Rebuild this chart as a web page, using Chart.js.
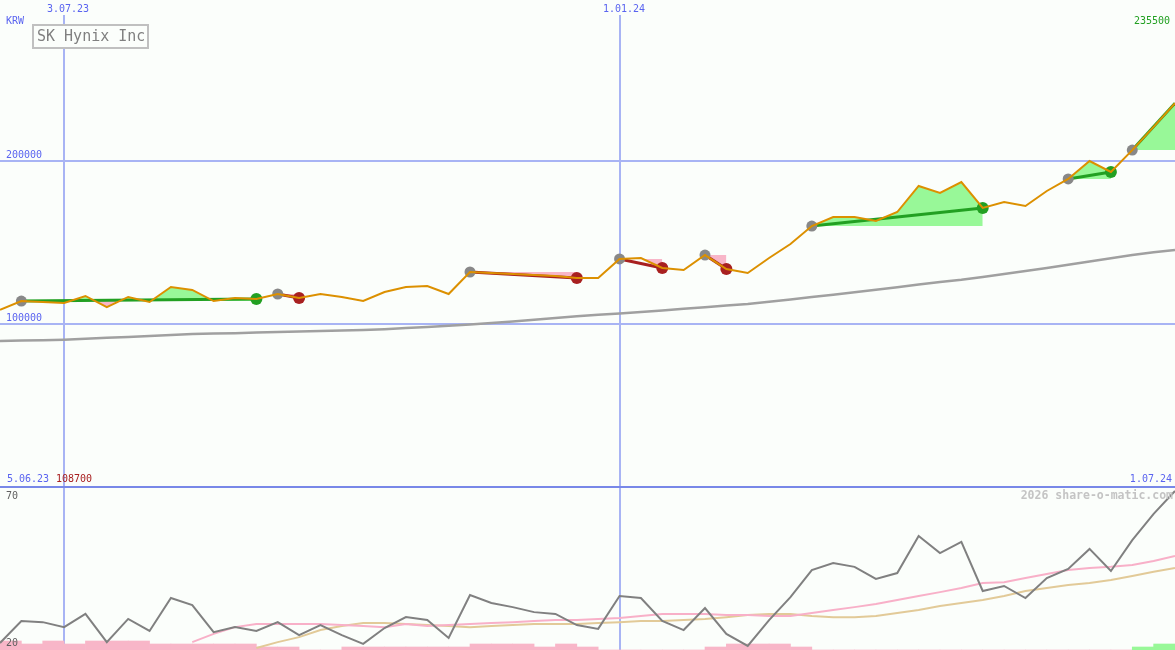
<!DOCTYPE html>
<html>
<head>
<meta charset="utf-8">
<script src="https://cdn.jsdelivr.net/npm/chart.js@4.4.1/dist/chart.umd.min.js"></script>
<style>
  html, body { margin: 0; padding: 0; background: #fbfefb; }
  #wrap { width: 1175px; height: 650px; }
</style>
</head>
<body>
<div id="wrap"><canvas id="chart" width="1175" height="650"></canvas></div>
<script>

// ======================================================
// Data (weekly points, index 0 .. 55)
// ======================================================

const dateTicks = [3, 29];
const dateLabels = ["3.07.23", "1.01.24"];
const priceTicks = [200000, 100000];
const oscTicks = [70, 20];

const price = [
    108700, 114100, 113500, 112900, 117200, 110400, 116600, 113500, 122700, 120900,
    114100, 116000, 115300, 118400, 116000, 118400, 116600, 114100, 119600, 122700,
    123300, 118400, 131900, 131300, 130700, 130100, 129400, 128200, 128200, 139900,
    140500, 134400, 133100, 142300, 133700, 131300, 140500, 149100, 160100, 165600,
    165600, 163200, 168700, 184700, 180400, 187100, 171200, 174800, 172400, 181600,
    189000, 200000, 193300, 206700, 220900, 235500
];

const trend = [
    89600, 89850, 90100, 90400, 90900, 91500, 92000, 92700, 93300, 93800,
    94100, 94400, 94800, 95100, 95400, 95700, 96000, 96300, 96800, 97500,
    98200, 98900, 99700, 100600, 101600, 102600, 103700, 104800, 105600, 106400,
    107300, 108300, 109300, 110300, 111300, 112300, 113600, 115000, 116500, 118000,
    119500, 121000, 122600, 124200, 125800, 127200, 128900, 130700, 132500, 134400,
    136400, 138400, 140400, 142300, 144000, 145400
];

const osc = [
    21.7, 29.2, 28.8, 27.1, 31.6, 22.0, 29.9, 25.8, 37.0, 34.6,
    25.4, 27.1, 25.8, 28.8, 24.4, 27.8, 24.4, 21.4, 26.8, 30.5,
    29.5, 23.4, 38.0, 35.3, 33.9, 32.2, 31.6, 27.8, 26.5, 37.7,
    37.0, 29.2, 26.1, 33.6, 24.8, 20.7, 29.5, 37.3, 46.5, 48.9,
    47.6, 43.5, 45.5, 58.1, 52.3, 56.1, 39.4, 41.1, 37.0, 43.8,
    46.9, 53.7, 46.2, 56.7, 65.6, 73.4
];

const oscFast = [
    null, null, null, null, null, null, null, null, null, 22.0,
    24.8, 27.1, 28.2, 28.2, 28.2, 28.2, 27.8, 27.5, 27.1, 28.2,
    27.5, 27.8, 28.2, 28.5, 28.8, 29.2, 29.5, 29.5, 29.9, 30.2,
    30.9, 31.6, 31.6, 31.6, 31.2, 31.2, 30.9, 30.9, 31.9, 32.9,
    33.9, 35.0, 36.3, 37.7, 39.0, 40.4, 42.1, 42.4, 43.8, 45.2,
    46.5, 47.2, 47.6, 48.2, 49.6, 51.3
];

const oscSlow = [
    null, null, null, null, null, null, null, null, null, null,
    null, null, 20.0, 22.0, 23.7, 26.1, 27.5, 28.5, 28.5, 28.2,
    27.8, 27.5, 27.1, 27.5, 27.8, 28.2, 28.2, 28.2, 28.5, 28.8,
    29.2, 29.2, 29.5, 29.9, 30.5, 31.2, 31.6, 31.6, 30.9, 30.5,
    30.5, 30.9, 31.9, 32.9, 34.3, 35.3, 36.3, 37.7, 39.4, 40.4,
    41.4, 42.1, 43.1, 44.5, 45.9, 47.2
];

// one bar per week interval (between point i and i + 1)
const barLevels = [
    3, 2, 3, 2, 3, 3, 3, 2, 2, 2,
    2, 2, 1, 1, 0, 0, 1, 1, 1, 1,
    1, 1, 2, 2, 2, 1, 2, 1, 0, 0,
    0, 0, 0, 1, 2, 2, 2, 1, 0, 0,
    0, 0, 0, 0, 0, 0, 0, 0, 0, 0,
    0, 0, 0, 1, 2
];
const barGreen = [53, 54];

// trades: entry / exit point index (null = still open)
const entries = [1, 13, 22, 29, 33, 38, 50, 53];
const exits = [12, 14, 27, 31, 34, 46, 52, null];

// ======================================================
// Colours
// ======================================================

const BG = "#fbfefb";
const GRID = "#a8b4f4";
const GRID_DARK = "#7888e8";
const BLUE_TEXT = "#5a64f0";
const ORANGE = "#dc9000";
const GREEN = "#22a022";
const RED = "#a82020";
const LIGHT_GREEN = "#98f898";
const PINK = "#f8b6c8";
const FONT = '"DejaVu Sans Mono", monospace';

const lastIdx = price.length - 1;
const xy = (arr) => arr.map((v, i) => ({ x: i, y: v }));

// ======================================================
// Trade datasets
// ======================================================

const fillSets = entries.map((e, k) => {
    const end = exits[k] ?? lastIdx;
    const data = [];
    for (let i = e; i <= end; i++) data.push({ x: i, y: price[e] });
    return {
        data,
        yAxisID: "y",
        borderWidth: 0,
        borderColor: "rgba(0,0,0,0)",
        pointRadius: 0,
        fill: { target: 0, above: PINK, below: LIGHT_GREEN },
        order: 10
    };
});

const tradeLines = entries.map((e, k) => {
    const end = exits[k] ?? lastIdx;
    return {
        data: [{ x: e, y: price[e] }, { x: end, y: price[end] }],
        yAxisID: "y",
        borderColor: price[end] >= price[e] ? GREEN : RED,
        borderWidth: 3,
        pointRadius: 0,
        order: 5
    };
});

const closed = exits.filter(x => x !== null);

const entryMarks = {
    data: entries.map(e => ({ x: e, y: price[e] })),
    yAxisID: "y",
    showLine: false,
    pointRadius: 5.5,
    pointBackgroundColor: "#888888",
    pointBorderWidth: 0,
    order: 3
};

const exitMarks = {
    data: closed.map(x => ({ x, y: price[x] })),
    yAxisID: "y",
    showLine: false,
    pointRadius: 6,
    pointBackgroundColor: exits
        .map((x, k) => x === null ? null : (price[x] >= price[entries[k]] ? GREEN : RED))
        .filter(c => c !== null),
    pointBorderWidth: 0,
    order: 3
};

// ======================================================
// Grid + labels plugin
// ======================================================

const overlay = {
    id: "overlay",
    beforeDraw(chart) {
        const { ctx, width, height } = chart;
        ctx.save();
        ctx.fillStyle = BG;
        ctx.fillRect(0, 0, width, height);
        ctx.restore();
    },
    beforeDatasetsDraw(chart) {
        const { ctx, chartArea: a, scales } = chart;
        ctx.save();
        ctx.lineWidth = 2;
        ctx.strokeStyle = GRID;
        priceTicks.forEach(v => {
            const y = Math.round(scales.y.getPixelForValue(v));
            ctx.beginPath(); ctx.moveTo(a.left, y); ctx.lineTo(a.right, y); ctx.stroke();
        });
        dateTicks.forEach(v => {
            const x = Math.round(scales.x.getPixelForValue(v));
            ctx.beginPath(); ctx.moveTo(x, 15); ctx.lineTo(x, a.bottom); ctx.stroke();
        });
        ctx.strokeStyle = GRID_DARK;
        const y0 = Math.round(scales.y.getPixelForValue(0));
        ctx.beginPath(); ctx.moveTo(a.left, y0); ctx.lineTo(a.right, y0); ctx.stroke();
        ctx.restore();
    },
    afterDraw(chart) {
        const { ctx, chartArea: a, scales } = chart;
        ctx.save();
        ctx.font = "10px " + FONT;
        ctx.textBaseline = "middle";

        ctx.fillStyle = BLUE_TEXT;
        dateTicks.forEach((v, k) => {
            const x = Math.round(scales.x.getPixelForValue(v));
            ctx.textAlign = "left";
            ctx.fillText(dateLabels[k], x - 17, 9);
        });
        ctx.textAlign = "left";
        ctx.fillText("KRW", 6, 21);
        priceTicks.forEach(v => {
            const y = scales.y.getPixelForValue(v);
            ctx.fillText(String(v), 6, y - 6);
        });
        const ySep = scales.y.getPixelForValue(0);
        ctx.fillText("5.06.23", 7, ySep - 8);
        ctx.textAlign = "right";
        ctx.fillText("1.07.24", a.right - 3, ySep - 8);

        ctx.textAlign = "left";
        ctx.fillStyle = RED;
        ctx.fillText(String(price[0]), 56, ySep - 8);

        ctx.textAlign = "right";
        ctx.fillStyle = GREEN;
        ctx.fillText(String(price[lastIdx]), a.right - 5, 21);

        ctx.textAlign = "left";
        ctx.fillStyle = "#606060";
        ctx.fillText(String(oscTicks[0]), 6, 496);
        ctx.fillText(String(oscTicks[1]), 6, 643);

        ctx.textAlign = "right";
        ctx.fillStyle = "#c4c4c4";
        ctx.font = "bold 11.5px " + FONT;
        ctx.fillText("2026 share-o-matic.com", a.right - 2, 496);

        // title box
        ctx.fillStyle = BG;
        ctx.fillRect(33, 25, 115, 23);
        ctx.strokeStyle = "#c0c0c0";
        ctx.lineWidth = 2;
        ctx.strokeRect(33, 25, 115, 23);
        ctx.fillStyle = "#808080";
        ctx.textAlign = "left";
        ctx.font = "15px " + FONT;
        ctx.fillText("SK Hynix Inc", 37, 37);
        ctx.restore();
    }
};

// ======================================================
// Chart
// ======================================================

new Chart(document.querySelector("#chart"), {
    type: "line",
    data: {
        datasets: [
            {
                data: xy(price),
                yAxisID: "y",
                borderColor: ORANGE,
                borderWidth: 2,
                pointRadius: 0,
                order: 0
            },
            ...fillSets,
            ...tradeLines,
            entryMarks,
            exitMarks,
            {
                data: xy(trend),
                yAxisID: "y",
                borderColor: "#a0a0a0",
                borderWidth: 2.5,
                pointRadius: 0,
                order: 8
            },
            {
                data: xy(osc),
                yAxisID: "y2",
                borderColor: "#808080",
                borderWidth: 2,
                pointRadius: 0,
                order: 1
            },
            {
                data: xy(oscFast),
                yAxisID: "y2",
                borderColor: "#f8b0c8",
                borderWidth: 2,
                pointRadius: 0,
                order: 2
            },
            {
                data: xy(oscSlow),
                yAxisID: "y2",
                borderColor: "#e2ca98",
                borderWidth: 2,
                pointRadius: 0,
                order: 2
            },
            {
                type: "bar",
                data: barLevels.map((v, i) => ({ x: i + 0.5, y: v })),
                yAxisID: "yb",
                backgroundColor: barLevels.map((v, i) => barGreen.includes(i) ? LIGHT_GREEN : PINK),
                borderWidth: 0,
                barPercentage: 1,
                categoryPercentage: 1,
                order: 20
            }
        ]
    },
    options: {
        responsive: false,
        animation: false,
        events: [],
        layout: { padding: 0, autoPadding: false },
        elements: { line: { tension: 0 } },
        plugins: {
            legend: { display: false },
            tooltip: { enabled: false }
        },
        scales: {
            x: { type: "linear", min: 0, max: lastIdx, offset: false, display: false },
            // price panel: 0 sits on the separator, 200000 at the upper grid line
            y: { type: "linear", min: -100000, max: 298773, display: false },
            // oscillator panel
            y2: { type: "linear", min: 19.32, max: 240.4, display: false },
            // bar strip at the very bottom
            yb: { type: "linear", min: 0, max: 216.7, display: false }
        }
    },
    plugins: [overlay]
});

</script>
</body>
</html>
